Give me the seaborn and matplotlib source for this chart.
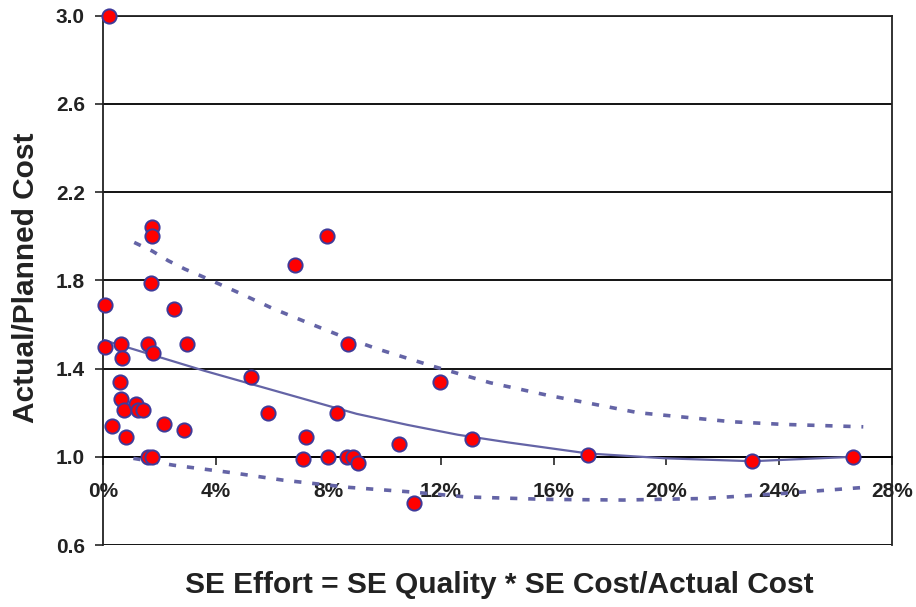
import matplotlib
matplotlib.use('Agg')
from matplotlib import pyplot as plt
from matplotlib.ticker import FuncFormatter
import seaborn as sns
import pandas as pd

# 観測点 (SE Effort [%], Actual/Planned Cost)
se_effort = [0.21, 0.07, 0.07, 0.64, 0.69, 0.60, 0.64, 0.76, 0.31, 0.81,
             1.16, 1.23, 1.43, 1.59, 1.76, 1.75, 1.75, 1.69, 1.61, 1.75,
             2.18, 2.52, 3.00, 2.89, 5.25, 5.85, 6.82, 7.97, 7.21, 7.11,
             7.98, 8.30, 8.71, 8.65, 8.86, 9.06, 10.51, 11.05, 11.96, 13.09,
             17.23, 23.05, 26.63]
cost_ratio = [3.00, 1.69, 1.50, 1.51, 1.45, 1.34, 1.26, 1.21, 1.14, 1.09,
              1.24, 1.21, 1.21, 1.51, 1.47, 2.04, 2.00, 1.79, 1.00, 1.00,
              1.15, 1.67, 1.51, 1.12, 1.36, 1.20, 1.87, 2.00, 1.09, 0.99,
              1.00, 1.20, 1.51, 1.00, 1.00, 0.97, 1.06, 0.79, 1.34, 1.08,
              1.01, 0.98, 1.00]

# 回帰曲線
fit_x = [0.0, 1.8, 3.6, 5.4, 7.2, 9.0, 10.8, 12.6, 14.4, 17.23, 20.0, 23.05, 26.63]
fit_y = [1.53, 1.46, 1.39, 1.325, 1.26, 1.195, 1.145, 1.10, 1.065, 1.015, 0.993, 0.98, 1.0]

# 上側の破線
upper_x = [1.11, 1.75, 2.32, 2.91, 3.50, 4.75, 6.02, 7.27, 8.53, 9.77, 11.73, 13.74, 15.75, 19.0, 22.32, 24.15, 26.99]
upper_y = [1.972, 1.933, 1.889, 1.851, 1.819, 1.748, 1.673, 1.608, 1.544, 1.488, 1.41, 1.336, 1.28, 1.20, 1.159, 1.147, 1.136]

# 下側の破線
lower_x = [1.08, 2.5, 4.63, 6.4, 8.77, 10.9, 12.91, 15.75, 18.47, 21.31, 24.15, 26.99]
lower_y = [0.993, 0.962, 0.927, 0.894, 0.861, 0.841, 0.818, 0.807, 0.804, 0.811, 0.834, 0.861]

y_ticks = [0.6, 1.0, 1.4, 1.8, 2.2, 2.6, 3.0]
x_ticks = [0, 4, 8, 12, 16, 20, 24, 28]

sns.set_style('white')
plt.rcParams['font.family'] = ['Liberation Sans', 'DejaVu Sans']

fig = plt.figure(figsize=(9.16, 6.07), dpi=100)
ax = fig.add_axes([0.1124, 0.1021, 0.8611, 0.8720])

line_color = '#6464A6'

sns.lineplot(x=fit_x, y=fit_y, ax=ax, color=line_color, lw=1.6, zorder=3)
sns.lineplot(x=upper_x, y=upper_y, ax=ax, color=line_color, lw=2.6, zorder=3)
sns.lineplot(x=lower_x, y=lower_y, ax=ax, color=line_color, lw=2.6, zorder=3)
for ln in ax.lines[1:3]:
    ln.set_dashes((2, 3))

df = pd.DataFrame({'x': se_effort, 'y': cost_ratio})
sns.scatterplot(data=df, x='x', y='y', ax=ax, s=105, color='#FF0000',
                edgecolor='#3F3A99', linewidth=1.4, zorder=4, clip_on=False)

ax.set_xlim(0, 28)
ax.set_ylim(0.6, 3.0)
ax.set_yticks(y_ticks)
ax.set_xticks(x_ticks)
ax.xaxis.set_major_formatter(FuncFormatter(lambda v, p: f'{v:.0f}%'))
ax.yaxis.set_major_formatter(FuncFormatter(lambda v, p: f'{v:.1f}'))

ax.yaxis.grid(True, color='black', lw=1.3)
ax.xaxis.grid(False)
ax.set_axisbelow(True)

for side in ['left', 'right', 'top']:
    ax.spines[side].set_color('#222222')
    ax.spines[side].set_linewidth(1.3)
ax.spines['bottom'].set_position(('data', 1.0))
ax.spines['bottom'].set_color('black')
ax.spines['bottom'].set_linewidth(1.3)

ax.tick_params(axis='x', direction='out', length=6, width=1.2, pad=12,
               labelsize=15, labelcolor='#222222', bottom=True)
ax.tick_params(axis='y', direction='out', length=6, width=1.2, pad=7,
               labelsize=15, labelcolor='#222222', left=True)
for lab in ax.get_xticklabels() + ax.get_yticklabels():
    lab.set_fontweight('bold')

ax.set_xlabel('')
ax.set_ylabel('')
fig.text(0.028, 0.542, 'Actual/Planned Cost', rotation=90, ha='center', va='center',
         fontsize=21.5, fontweight='bold', color='#222222')
fig.text(0.545, 0.036, 'SE Effort = SE Quality * SE Cost/Actual Cost',
         ha='center', va='center', fontsize=21.5, fontweight='bold', color='#222222')

fig.savefig('out.png', dpi=100)
